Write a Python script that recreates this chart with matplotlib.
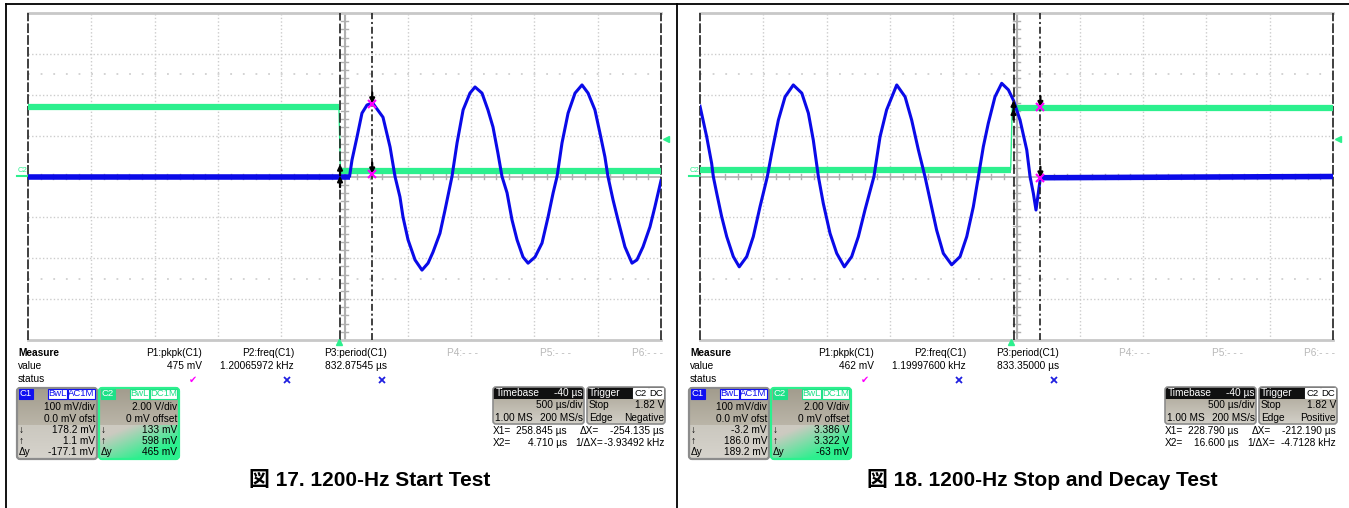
import numpy as np
import matplotlib.pyplot as plt
from matplotlib.colors import to_rgb
from matplotlib.patches import FancyBboxPatch, Rectangle

plt.rcParams['font.family'] = ['Liberation Sans', 'DejaVu Sans']
plt.rcParams['lines.scale_dashes'] = False

W, H = 1349, 508

# scope settings shared by both captures
time_per_div = 500.0   # us/div
trig_delay = -40.0     # us
c1_per_div = 100.0     # mV/div
c2_per_div = 2.0       # V/div
trig_level = 1.82      # V

# ---- Fig 17: start test (t in us, C1 in mV, C2 in V) ----
start_c1_t = [-2460, 80, 99, 139, 178, 218, 262, 344, 400, 439, 478, 502, 542, 597,
              652, 700, 739, 794, 834, 889, 929, 977, 1031, 1071, 1126, 1173, 1213,
              1252, 1284, 1324, 1363, 1403, 1450, 1490, 1545, 1600, 1648, 1688, 1719,
              1758, 1806, 1861, 1916, 1964, 2018, 2058, 2097, 2121, 2161, 2200, 2255,
              2311, 2350, 2398, 2453, 2492, 2540]
start_c1_mv = [0, 0, 40, 97, 155, 175, 180, 145, 72, 0, -50, -99, -155, -204,
               -229, -212, -185, -139, -82, 0, 82, 163, 204, 219, 204, 163, 121,
               57, 0, -40, -106, -155, -197, -212, -197, -163, -99, -40, 0,
               82, 155, 204, 224, 204, 163, 106, 48, 0, -57, -106, -172,
               -212, -204, -172, -123, -74, -10]
start_c2_t = [-2460, -4, 8, 2540]
start_c2_v = [3.40, 3.40, 0.27, 0.27]
start_x1, start_x2 = 258.845, 4.710
start_c1_cur = [178.2, 1.1]      # at X1, X2
start_c2_cur = [0.133, 0.598]
start_meas = ["475 mV", "1.20065972 kHz", "832.87545 µs"]
start_c1_read = ["178.2 mV", "1.1 mV", "-177.1 mV"]
start_c2_read = ["133 mV", "598 mV", "465 mV"]
start_cur_read = ["258.845 µs", "4.710 µs", "-254.135 µs", "-3.93492 kHz"]
start_edge = "Negative"
start_title = "図 17. 1200-Hz Start Test"

# ---- Fig 18: stop and decay test ----
stop_c1_t = [-2460, -2407, -2368, -2355, -2328, -2289, -2249, -2197, -2150, -2091,
             -2039, -1986, -1928, -1894, -1841, -1788, -1723, -1656, -1604, -1565,
             -1525, -1486, -1433, -1380, -1320, -1262, -1209, -1157, -1086, -1038,
             -986, -906, -840, -788, -735, -683, -643, -591, -538, -472, -406,
             -353, -301, -261, -222, -183, -130, -77, -24, 16.6, 68, 121, 147,
             173, 194, 212, 229, 2540]
stop_c1_mv = [172, 97, 32, 0, -41, -98, -147, -196, -221, -196,
              -147, -74, 0, 57, 138, 195, 224, 204, 155, 89,
              0, -66, -139, -188, -221, -196, -147, -82, 0, 97,
              163, 224, 195, 138, 65, 0, -57, -131, -188, -216, -196,
              -147, -74, 0, 73, 130, 195, 228, 212, 186, 138, 65, 0,
              -41, -82, -41, -3, 0]
stop_c2_t = [-2460, -6, 6, 2540]
stop_c2_v = [0.32, 0.32, 3.37, 3.37]
stop_x1, stop_x2 = 228.790, 16.600
stop_c1_cur = [-3.2, 186.0]
stop_c2_cur = [3.386, 3.322]
stop_meas = ["462 mV", "1.19997600 kHz", "833.35000 µs"]
stop_c1_read = ["-3.2 mV", "186.0 mV", "189.2 mV"]
stop_c2_read = ["3.386 V", "3.322 V", "-63 mV"]
stop_cur_read = ["228.790 µs", "16.600 µs", "-212.190 µs", "-4.7128 kHz"]
stop_edge = "Positive"
stop_title = "図 18. 1200-Hz Stop and Decay Test"

BLUE = '#0a0ae8'
GREEN = '#2cf08e'
GRID = '#cccccc'
FS = 7.3


def draw_scope(ax, c1_t, c1_mv, c2_t, c2_v, x1, x2, c1_cur, c2_cur):
    t0 = -5 * time_per_div - trig_delay
    t1 = 5 * time_per_div - trig_delay
    tc = (t0 + t1) / 2
    ax.set_xlim(t0, t1)
    ax.set_ylim(-4, 4)
    ax.axis('off')

    for k in range(1, 10):
        ax.axvline(t0 + k * time_per_div, color=GRID, lw=1, ls=(0, (1, 1.6)))
    for k in (-3, -2, -1, 1, 2, 3):
        ax.axhline(k, color=GRID, lw=1, ls=(0, (1, 1.6)))
    for k in (-2.5, 2.5):
        ax.axhline(k, color=GRID, lw=1.2, ls=(0, (1.3, 7.8)))
    ax.axvline(tc, color='#b0b0b0', lw=1.5)
    ax.axhline(0, color='#b0b0b0', lw=1.2)
    for k in range(1, 50):
        tt = t0 + k * time_per_div / 5
        ax.plot([tt, tt], [-0.07, 0.07], color='#b0b0b0', lw=1)
    for k in range(-19, 20):
        ax.plot([tc - 25, tc + 25], [k / 5, k / 5], color='#b0b0b0', lw=1)

    ax.axhline(4, color='#c8c8c8', lw=2, clip_on=False)
    ax.axhline(-4, color='#c8c8c8', lw=2, clip_on=False)
    ax.axvline(t0, color='#303030', lw=1.3, ls=(0, (7, 1.5)), clip_on=False)
    ax.axvline(t1, color='#303030', lw=1.3, ls=(0, (7, 1.5)), clip_on=False)

    # traces: thin path, thick band on the flat (noisy) parts
    c2_y = np.array(c2_v) / c2_per_div
    ax.plot(c2_t, c2_y, color=GREEN, lw=1, zorder=3)
    for i in range(len(c2_t) - 1):
        if c2_v[i] == c2_v[i + 1]:
            ax.plot(c2_t[i:i + 2], c2_y[i:i + 2], color=GREEN, lw=4.5,
                    solid_capstyle='butt', zorder=3)
    c1_y = np.array(c1_mv) / c1_per_div
    ax.plot(c1_t, c1_y, color=BLUE, lw=2.2, zorder=4)
    for i in range(len(c1_t) - 1):
        if abs(c1_mv[i]) < 5 and abs(c1_mv[i + 1]) < 5:
            ax.plot(c1_t[i:i + 2], c1_y[i:i + 2], color=BLUE, lw=4,
                    solid_capstyle='butt', zorder=4)

    # cursors
    ax.axvline(x2, color='#202020', lw=1.2, ls=(0, (7, 2.2)), zorder=5)
    ax.axvline(x1, color='#202020', lw=1.2, ls=(0, (5, 2, 1.5, 2)), zorder=5)
    arrow = dict(arrowstyle='-|>', color='black', lw=1.6, mutation_scale=7,
                 shrinkA=0, shrinkB=0)
    for y in (c2_cur[1] / c2_per_div, c1_cur[1] / c1_per_div):
        ax.annotate('', xy=(x2, y), xytext=(0, -8), textcoords='offset points',
                    arrowprops=arrow, zorder=6)
    for y in (c2_cur[0] / c2_per_div, c1_cur[0] / c1_per_div):
        ax.annotate('', xy=(x1, y), xytext=(0, 8), textcoords='offset points',
                    arrowprops=arrow, zorder=6)
        ax.plot(x1, y, marker='x', color='#ff00ff', ms=6, mew=1.5, zorder=7)

    # trigger position / level markers
    ax.plot(0, -4.06, marker='^', color=GREEN, ms=5, clip_on=False, zorder=6)
    ax.plot(t1 + 36, trig_level / c2_per_div, marker='<', color=GREEN, ms=4.5,
            clip_on=False, zorder=6)


def txt(ax, x, y, s, ha='left', **kw):
    kw.setdefault('fontsize', FS)
    ax.text(x, y, s, ha=ha, va='center', zorder=6, **kw)


def gradient(ax, x0, y0, x1, y1, c0, c1, clip, diag=False):
    a, b = np.array(to_rgb(c0)), np.array(to_rgb(c1))
    u = np.linspace(0, 1, 24)
    if diag:
        f = np.clip(u[None, :] * 0.9 + u[:, None] * 0.9 - 0.35, 0, 1)
    else:
        f = np.repeat(u[:, None], 24, axis=1)
    img = a + f[..., None] * (b - a)
    im = ax.imshow(img, extent=(x0, x1, y1, y0), aspect='auto',
                   interpolation='bilinear', zorder=2)
    im.set_clip_path(clip)


def badge(ax, x0, x1, y0, text, fc, tc, ec):
    ax.add_patch(Rectangle((x0, y0), x1 - x0, 10, fc=fc, ec=ec, lw=0.8, zorder=5))
    txt(ax, (x0 + x1) / 2, y0 + 5, text, ha='center', color=tc, fontsize=6.8)


def channel_box(ax, x0, name, col, edge, coupling, scale, offset, reads, green):
    x1, y0, y1 = x0 + 80, 388, 459
    box = FancyBboxPatch((x0, y0), x1 - x0, y1 - y0,
                         boxstyle='round,pad=0,rounding_size=3',
                         fc='none', ec=edge, lw=1.6, zorder=4)
    ax.add_patch(box)
    gradient(ax, x0, y0, x1, 425, '#a29c8d', '#bab5a8', box)
    if green:
        gradient(ax, x0, 425, x1, y1, '#cdcac1', GREEN, box, diag=True)
    else:
        gradient(ax, x0, 425, x1, y1, '#cbc8bf', '#d6d3cc', box)
    badge(ax, x0 + 1.5, x0 + 16, 388.5, name, col, 'white', col)
    badge(ax, x0 + 31, x0 + 50, 388.5, "BwL", 'white', col, col)
    badge(ax, x0 + 51, x0 + 78, 388.5, coupling, 'white', col, col)
    txt(ax, x1 - 2, 407, scale, ha='right')
    txt(ax, x1 - 2, 419, offset, ha='right')
    for y, sym, val in zip((430, 441, 452), ("↓", "↑", "Δy"), reads):
        txt(ax, x0 + 2, y, sym)
        txt(ax, x1 - 2, y, val, ha='right')


def info_panel(ax, dx, meas, c1_read, c2_read, cur_read, edge):
    txt(ax, 18 + dx, 353, "Measure", fontweight='bold')
    txt(ax, 18 + dx, 366, "value")
    txt(ax, 18 + dx, 379, "status")
    heads = ["P1:pkpk(C1)", "P2:freq(C1)", "P3:period(C1)", "P4:- - -", "P5:- - -", "P6:- - -"]
    col_right = [202, 294, 387, 478, 571, 663]
    for i, (h, xr) in enumerate(zip(heads, col_right)):
        txt(ax, xr + dx, 353, h, ha='right', color='black' if i < 3 else '#b8b8b8')
    for v, xr in zip(meas, col_right):
        txt(ax, xr + dx, 366, v, ha='right')
    ax.text(193 + dx, 380, '✔', color='#ff00ff', fontsize=7, ha='center',
            va='center', family='DejaVu Sans')
    for xr in (287, 382):
        ax.plot(xr + dx, 380, marker='x', color='#2020e0', ms=5, mew=1.3)

    channel_box(ax, 17 + dx, "C1", '#1010f0', '#8c8c8c', "AC1M",
                "100 mV/div", "0.0 mV ofst", c1_read, False)
    channel_box(ax, 99 + dx, "C2", '#20e088', GREEN, "DC1M",
                "2.00 V/div", "0 mV offset", c2_read, True)

    # timebase / trigger boxes
    for x0, x1 in ((493, 584), (587, 665)):
        box = FancyBboxPatch((x0 + dx, 387), x1 - x0, 37,
                             boxstyle='round,pad=0,rounding_size=3',
                             fc='none', ec='#8c8c8c', lw=1.2, zorder=4)
        ax.add_patch(box)
        gradient(ax, x0 + dx, 387, x1 + dx, 424, '#a8a293', '#d2cfc7', box)
        ax.add_patch(Rectangle((x0 + dx, 387), x1 - x0, 12, fc='#101010', ec='none',
                               zorder=3, clip_path=box))
    txt(ax, 496 + dx, 393, "Timebase", color='white')
    txt(ax, 583 + dx, 393, "-40 µs", ha='right', color='white')
    txt(ax, 583 + dx, 405, "500 µs/div", ha='right')
    txt(ax, 495 + dx, 418, "1.00 MS")
    txt(ax, 583 + dx, 418, "200 MS/s", ha='right')
    txt(ax, 589 + dx, 393, "Trigger", color='white')
    badge(ax, 633 + dx, 648 + dx, 388, "C2", 'white', 'black', 'white')
    badge(ax, 649 + dx, 663 + dx, 388, "DC", 'white', 'black', 'white')
    txt(ax, 589 + dx, 405, "Stop")
    txt(ax, 664 + dx, 405, "1.82 V", ha='right')
    txt(ax, 589 + dx, 418, "Edge")
    txt(ax, 664 + dx, 418, edge, ha='right')

    txt(ax, 493 + dx, 431, "X1=")
    txt(ax, 567 + dx, 431, cur_read[0], ha='right')
    txt(ax, 580 + dx, 431, "ΔX=")
    txt(ax, 664 + dx, 431, cur_read[2], ha='right')
    txt(ax, 493 + dx, 443, "X2=")
    txt(ax, 567 + dx, 443, cur_read[1], ha='right')
    txt(ax, 575 + dx, 443, "1/ΔX=")
    txt(ax, 664 + dx, 443, cur_read[3], ha='right')

    # C2 ground marker
    txt(ax, 22 + dx, 170, "C2", ha='center', color=GREEN, fontsize=5.5)
    ax.plot([17 + dx, 28 + dx], [175.5, 175.5], color=GREEN, lw=1.5)


fig = plt.figure(figsize=(W / 100, H / 100), dpi=100)
ov = fig.add_axes([0, 0, 1, 1], zorder=0)
ov.axis('off')

captures = [
    (0, start_c1_t, start_c1_mv, start_c2_t, start_c2_v, start_x1, start_x2,
     start_c1_cur, start_c2_cur, start_meas, start_c1_read, start_c2_read,
     start_cur_read, start_edge, start_title),
    (672, stop_c1_t, stop_c1_mv, stop_c2_t, stop_c2_v, stop_x1, stop_x2,
     stop_c1_cur, stop_c2_cur, stop_meas, stop_c1_read, stop_c2_read,
     stop_cur_read, stop_edge, stop_title),
]

for (dx, c1t, c1v, c2t, c2v, x1, x2, c1c, c2c, meas, r1, r2, rc, edge, title) in captures:
    ax = fig.add_axes([(28 + dx) / W, 1 - 340 / H, 633 / W, 327 / H], zorder=1)
    draw_scope(ax, c1t, c1v, c2t, c2v, x1, x2, c1c, c2c)
    info_panel(ov, dx, meas, r1, r2, rc, edge)
    ov.text(370 + dx, 480, title, ha='center', va='center', fontsize=15,
            fontweight='bold', family=['Liberation Sans', 'Noto Sans CJK JP'])

# page frame
ov.plot([6, 6], [4, H], color='black', lw=1.3)
ov.plot([6, W], [4, 4], color='black', lw=1.3)
ov.plot([677, 677], [4, H], color='black', lw=1.3)

ov.set_xlim(0, W)
ov.set_ylim(H, 0)

fig.savefig('out.png', dpi=100)
